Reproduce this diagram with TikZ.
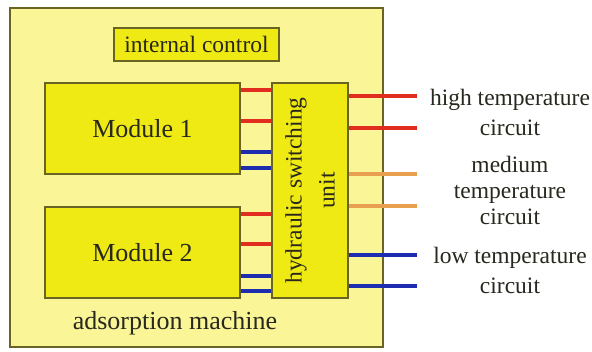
\documentclass[tikz,border=0pt]{standalone}
\usepackage{fontspec}
\setmainfont{Liberation Serif}
\begin{document}
\begin{tikzpicture}[x=1pt,y=-1pt,
  frame/.style={draw=borderc,line width=1.3pt,inner sep=0pt},
  unitbox/.style={frame,fill=boxy},
  pipe/.style={line width=3.8pt},
  hot/.style={pipe,draw=hotc},
  mid/.style={pipe,draw=midc},
  cold/.style={pipe,draw=coldc},
  lbl/.style={text=textc,align=center,font=\fontsize{23.5}{30}\selectfont}]
\definecolor{bgy}{RGB}{250,245,150}
\definecolor{boxy}{RGB}{240,234,20}
\definecolor{borderc}{RGB}{105,100,35}
\definecolor{hotc}{RGB}{225,45,30}
\definecolor{midc}{RGB}{232,160,80}
\definecolor{coldc}{RGB}{30,45,175}
\definecolor{textc}{RGB}{40,40,30}
\useasboundingbox (0,0) rectangle (592,351);
\fill[white] (0,0) rectangle (592,351);
\node[frame,fill=bgy,minimum width=373pt,minimum height=339pt] (outer) at (196.5,177.5) {};
\node[unitbox,minimum width=165pt,minimum height=33pt,lbl] (ctrl) at (196.5,44.5) {internal control};
\node[unitbox,minimum width=195pt,minimum height=91pt,lbl,font=\fontsize{26}{30}\selectfont] (m1) at (142.5,128.5) {Module 1};
\node[unitbox,minimum width=195pt,minimum height=91pt,lbl,font=\fontsize{26}{30}\selectfont] (m2) at (142.5,252.5) {Module 2};
\node[unitbox,minimum width=215pt,minimum height=76pt,lbl,rotate=90,font=\fontsize{23.5}{33}\selectfont] (hsu) at (310,190.5) {hydraulic switching\\unit};
\node[lbl,font=\fontsize{26}{30}\selectfont] (adm) at (175,323) {adsorption machine};
% module 1 to hsu
\draw[hot]  (m1.east |- 0,90)  -- (hsu.north |- 0,90);
\draw[hot]  (m1.east |- 0,121) -- (hsu.north |- 0,121);
\draw[cold] (m1.east |- 0,152) -- (hsu.north |- 0,152);
\draw[cold] (m1.east |- 0,168) -- (hsu.north |- 0,168);
% module 2 to hsu
\draw[hot]  (m2.east |- 0,214) -- (hsu.north |- 0,214);
\draw[hot]  (m2.east |- 0,244) -- (hsu.north |- 0,244);
\draw[cold] (m2.east |- 0,276) -- (hsu.north |- 0,276);
\draw[cold] (m2.east |- 0,291) -- (hsu.north |- 0,291);
% outputs
\coordinate (o1) at (417,96);
\coordinate (o2) at (417,128);
\coordinate (o3) at (417,174);
\coordinate (o4) at (417,206);
\coordinate (o5) at (417,255);
\coordinate (o6) at (417,286);
\draw[hot]  (hsu.south |- o1) -- (o1);
\draw[hot]  (hsu.south |- o2) -- (o2);
\draw[mid]  (hsu.south |- o3) -- (o3);
\draw[mid]  (hsu.south |- o4) -- (o4);
\draw[cold] (hsu.south |- o5) -- (o5);
\draw[cold] (hsu.south |- o6) -- (o6);
\node[lbl] (t1) at (510,112) {high temperature\\circuit};
\node[lbl,font=\fontsize{23.5}{26}\selectfont] (t2) at (510,190) {medium\\temperature\\circuit};
\node[lbl] (t3) at (510,270) {low temperature\\circuit};
\end{tikzpicture}
\end{document}
